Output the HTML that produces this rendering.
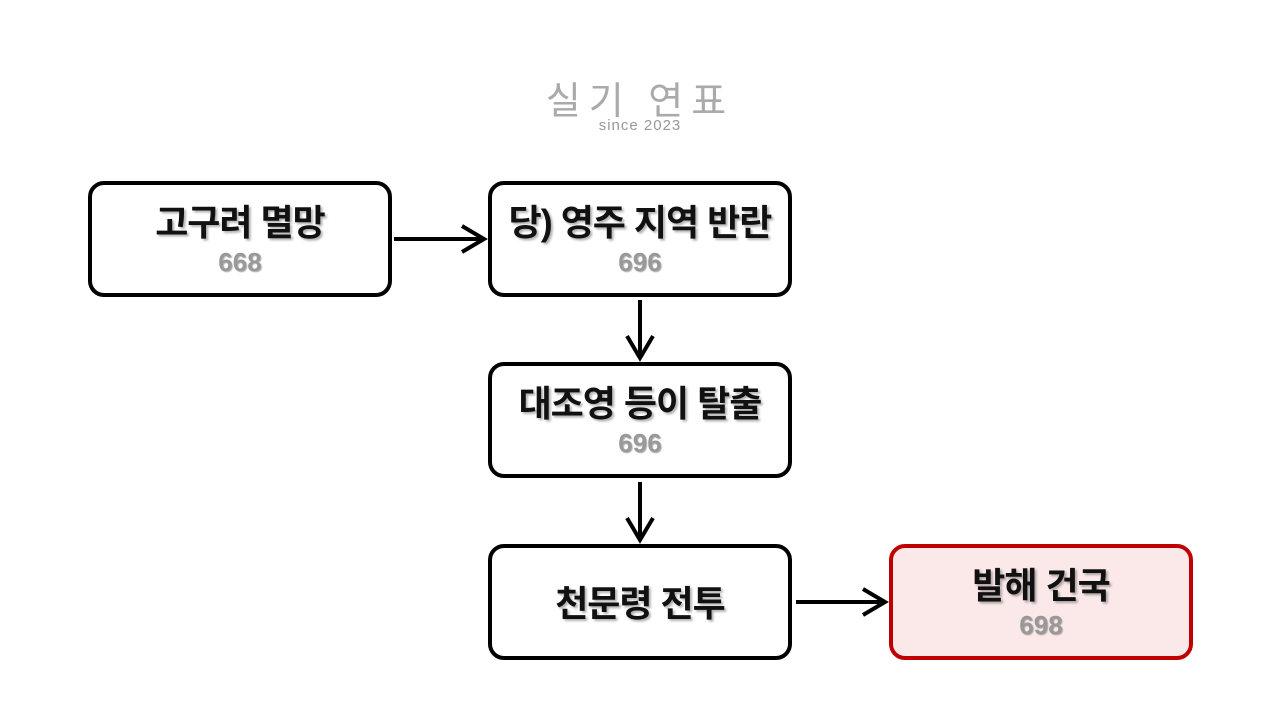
<!DOCTYPE html>
<html><head><meta charset="utf-8"><style>
body{margin:0;width:1280px;height:720px;background:#fff;position:relative;overflow:hidden;font-family:"Liberation Sans","Noto Sans CJK KR",sans-serif}
.b{position:absolute;width:296px;height:108px;border:4px solid #000;border-radius:16px;box-sizing:content-box;text-align:center}
.t{position:absolute;left:-20px;right:-20px;top:18px;font-size:36px;font-weight:bold;color:#111;text-shadow:2px 2px 2px rgba(0,0,0,.3);line-height:40px;letter-spacing:-1px}
.n{position:absolute;left:0;right:0;top:62px;font-size:26px;font-weight:bold;color:#999;text-shadow:1px 1px 1px rgba(0,0,0,.3);line-height:30px}
</style></head><body>
<div style="position:absolute;left:520px;top:74px;width:240px;text-align:center;color:#aaa;font-size:38px;letter-spacing:8px;font-family:'Noto Sans CJK KR',sans-serif;line-height:48px">실기 연표</div>
<div style="position:absolute;left:540px;top:117px;width:200px;text-align:center;color:#999;font-size:15px;letter-spacing:1px">since 2023</div>
<div class="b" style="left:88px;top:181px"><div class="t">고구려 멸망</div><div class="n">668</div></div>
<div class="b" style="left:488px;top:181px"><div class="t">당) 영주 지역 반란</div><div class="n">696</div></div>
<div class="b" style="left:488px;top:362px"><div class="t">대조영 등이 탈출</div><div class="n">696</div></div>
<div class="b" style="left:488px;top:544px"><div class="t" style="top:36px">천문령 전투</div></div>
<div class="b" style="left:889px;top:544px;border-color:#c00000;background:#fbe9e9"><div class="t">발해 건국</div><div class="n">698</div></div>
<svg width="1280" height="720" style="position:absolute;left:0;top:0" fill="none" stroke="#000" stroke-width="4">
<line x1="394" y1="239" x2="482" y2="239"/><polyline points="462,226 484,239 462,252"/>
<line x1="640" y1="300" x2="640" y2="356"/><polyline points="627,336 640,358 653,336"/>
<line x1="640" y1="482" x2="640" y2="538"/><polyline points="627,518 640,540 653,518"/>
<line x1="796" y1="602" x2="883" y2="602"/><polyline points="863,589 885,602 863,615"/>
</svg>
</body></html>
